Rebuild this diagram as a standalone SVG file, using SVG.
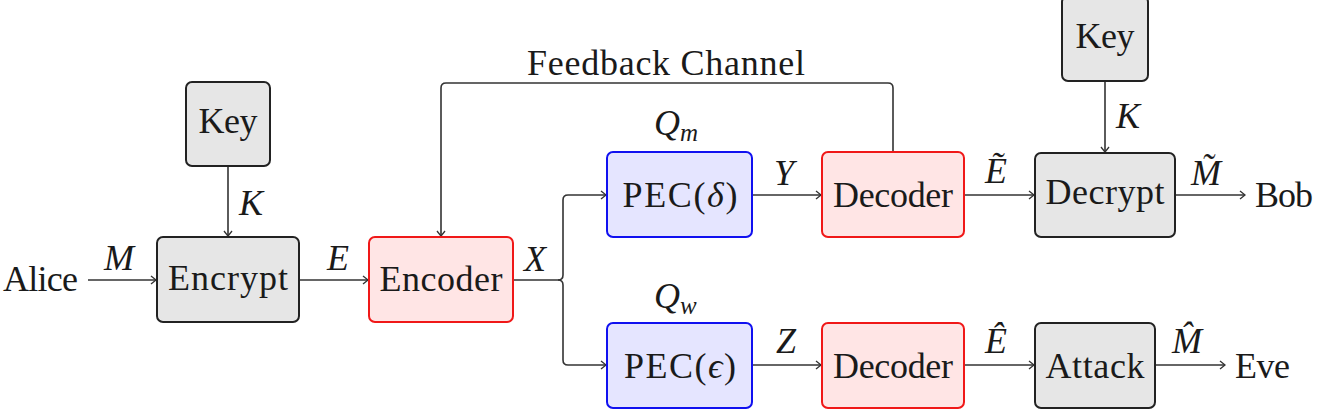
<svg xmlns="http://www.w3.org/2000/svg" width="1317" height="419" viewBox="0 0 1317 419">
<style>
text{font-family:"Liberation Serif","DejaVu Serif",serif;font-size:36px;fill:#1a1a1a}
.m{font-style:italic}
.sub{font-size:25px}
.gray{fill:#e6e6e6;stroke:#222;stroke-width:2}
.red{fill:#ffe5e5;stroke:#f01818;stroke-width:2}
.blue{fill:#e5e5ff;stroke:#1010f0;stroke-width:2}
.c{fill:none;stroke:#333;stroke-width:1.6}
.a{marker-end:url(#arr)}
</style>
<defs>
<marker id="arr" viewBox="-6 -5 7 10" refX="0" refY="0" markerWidth="7" markerHeight="10" markerUnits="userSpaceOnUse" orient="auto">
<path d="M-5,-4 Q-1.2,-1 0,0 Q-1.2,1 -5,4" fill="none" stroke="#333" stroke-width="1.3"/>
</marker>
</defs>
<g id="connectors">
<path class="c a" d="M228,167 V236"/>
<path class="c a" d="M88,280 H156"/>
<path class="c a" d="M299,280 H368"/>
<path class="c" d="M513,280 H558 Q563,280 563,275 V200 Q563,195 568,195"/>
<path class="c a" d="M568,195 H606"/>
<path class="c" d="M558,280 Q563,280 563,285 V360 Q563,365 568,365"/>
<path class="c a" d="M568,365 H606"/>
<path class="c a" d="M893,152 V88 Q893,83 888,83 H446 Q441,83 441,88 V236"/>
<path class="c a" d="M752,195 H821"/>
<path class="c a" d="M752,365 H821"/>
<path class="c a" d="M964,195 H1034"/>
<path class="c a" d="M964,365 H1034"/>
<path class="c a" d="M1105,81 V152"/>
<path class="c a" d="M1175,195 H1245"/>
<path class="c a" d="M1155,365 H1225"/>
<text class="m" x="239" y="215">K</text>
<text class="m" x="104" y="270">M</text>
<text class="m" x="327" y="270">E</text>
<text class="m" x="524" y="271">X</text>
<text x="666" y="75" text-anchor="middle" textLength="278">Feedback Channel</text>
<text class="m" x="654" y="135">Q<tspan class="sub" dy="6">m</tspan></text>
<text class="m" x="654" y="308">Q<tspan class="sub" dy="6">w</tspan></text>
<text class="m" x="774" y="185">Y</text>
<text class="m" x="776" y="353">Z</text>
<text class="m" x="985" y="183">Ẽ</text>
<text class="m" x="985" y="353">Ê</text>
<text class="m" x="1116" y="128">K</text>
<text class="m" x="1191" y="185">M̃</text>
<text class="m" x="1172" y="353">M̂</text>
<text x="3" y="291" textLength="75">Alice</text>
<text x="1255" y="207" textLength="58">Bob</text>
<text x="1235" y="378" textLength="55">Eve</text>
</g>
<g id="key1"><rect class="gray" x="186" y="82" width="84" height="84" rx="6"/><text x="228" y="133" text-anchor="middle" textLength="59">Key</text></g>
<g id="encrypt"><rect class="gray" x="157" y="237" width="142" height="85" rx="6"/><text x="228" y="290" text-anchor="middle" textLength="120">Encrypt</text></g>
<g id="encoder"><rect class="red" x="369" y="237" width="144" height="85" rx="6"/><text x="441" y="291" text-anchor="middle" textLength="123">Encoder</text></g>
<g id="pec1"><rect class="blue" x="607" y="152" width="145" height="85" rx="6"/><text x="680" y="207" text-anchor="middle" textLength="115">PEC(<tspan class="m">δ</tspan>)</text></g>
<g id="pec2"><rect class="blue" x="607" y="323" width="145" height="85" rx="6"/><text x="680" y="378" text-anchor="middle" textLength="112">PEC(<tspan class="m">ϵ</tspan>)</text></g>
<g id="decoder1"><rect class="red" x="822" y="152" width="142" height="85" rx="6"/><text x="893" y="207" text-anchor="middle" textLength="120">Decoder</text></g>
<g id="decoder2"><rect class="red" x="822" y="323" width="142" height="85" rx="6"/><text x="893" y="378" text-anchor="middle" textLength="120">Decoder</text></g>
<g id="key2"><rect class="gray" x="1062" y="-4" width="86" height="85" rx="6"/><text x="1105" y="48" text-anchor="middle" textLength="59">Key</text></g>
<g id="decrypt"><rect class="gray" x="1035" y="153" width="140" height="84" rx="6"/><text x="1105" y="204" text-anchor="middle" textLength="119">Decrypt</text></g>
<g id="attack"><rect class="gray" x="1035" y="323" width="120" height="85" rx="6"/><text x="1095" y="378" text-anchor="middle" textLength="99">Attack</text></g>
</svg>
